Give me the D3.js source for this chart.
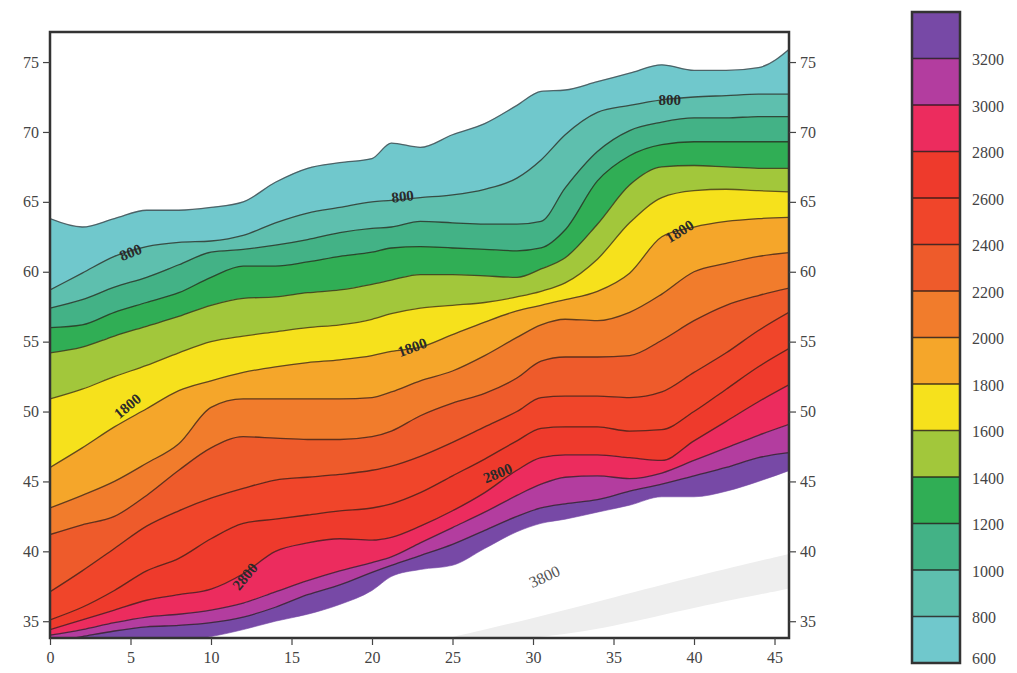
<!DOCTYPE html>
<html>
<head>
<meta charset="UTF-8">
<script src="https://d3js.org/d3.v7.min.js"></script>
<style>
  body { margin: 0; background: #fff; font-family: "Liberation Serif", "DejaVu Serif", serif; }
  .tick text { font-family: "Liberation Serif", serif; font-size: 16px; fill: #444; }
  .tick line { stroke: #444; stroke-width: 1.2; }
  .clabel { font-family: "Liberation Serif", serif; font-size: 15px; fill: #2a2a2a; font-weight: bold; }
</style>
</head>
<body>
<svg id="chart" width="1017" height="673"></svg>
<script>
// x positions where each contour line was read
var xs = [0, 2, 4, 6, 8, 10, 12, 14, 16, 18, 20, 21.2, 23, 25, 27, 29, 30.5, 32, 34, 36, 38, 40, 42, 44, 46.2];

// latitude of each contour line at xs
var topEdge = [63.8, 63.2, 63.8, 64.4, 64.4, 64.6, 65.0, 66.4, 67.4, 67.8, 68.1, 69.2, 68.9, 69.8, 70.6, 71.9, 72.9, 73.0, 73.6, 74.2, 74.8, 74.4, 74.4, 74.6, 76.2];
var c800  = [58.7, 59.9, 61.1, 61.8, 62.1, 62.2, 62.6, 63.5, 64.2, 64.6, 65.0, 65.1, 65.3, 65.5, 65.9, 66.7, 68.0, 69.8, 71.4, 71.9, 72.3, 72.5, 72.6, 72.7, 72.7];
var c1000 = [57.4, 58.0, 58.9, 59.6, 60.5, 61.4, 61.6, 61.9, 62.3, 62.8, 63.1, 63.2, 63.6, 63.5, 63.4, 63.4, 63.6, 66.0, 68.6, 70.1, 70.7, 71.0, 71.0, 71.1, 71.1];
var c1200 = [56.0, 56.2, 57.1, 57.8, 58.5, 59.6, 60.4, 60.4, 60.7, 61.1, 61.4, 61.7, 61.8, 61.7, 61.6, 61.5, 61.7, 63.0, 66.5, 68.3, 69.1, 69.3, 69.3, 69.3, 69.3];
var c1400 = [54.2, 54.6, 55.4, 56.1, 56.8, 57.6, 58.1, 58.2, 58.5, 58.7, 59.1, 59.4, 59.8, 59.8, 59.7, 59.6, 60.2, 61.0, 63.4, 66.2, 67.5, 67.6, 67.5, 67.4, 67.4];
var c1600 = [50.9, 51.6, 52.5, 53.3, 54.2, 55.0, 55.4, 55.7, 56.0, 56.2, 56.6, 57.0, 57.4, 57.6, 57.8, 58.2, 58.6, 59.2, 60.9, 63.5, 65.3, 65.8, 65.9, 65.8, 65.7];
var c1800 = [46.0, 47.4, 48.9, 50.2, 51.5, 52.2, 52.8, 53.2, 53.5, 53.7, 54.0, 54.3, 54.6, 55.5, 56.4, 57.2, 57.6, 58.0, 58.6, 59.9, 62.5, 63.2, 63.6, 63.8, 63.9];
var c2000 = [43.1, 44.0, 45.0, 46.3, 47.7, 50.3, 50.9, 50.9, 50.9, 50.9, 51.0, 51.4, 52.2, 52.9, 54.0, 55.3, 56.2, 56.6, 56.5, 57.1, 58.4, 60.0, 60.6, 61.1, 61.4];
var c2200 = [41.2, 41.9, 42.5, 44.0, 45.8, 47.4, 48.2, 48.1, 48.0, 48.0, 48.2, 48.6, 49.7, 50.6, 51.3, 52.4, 53.6, 53.9, 53.9, 54.0, 55.1, 56.5, 57.6, 58.3, 58.9];
var c2400 = [37.1, 38.6, 40.2, 41.8, 42.9, 43.8, 44.5, 45.1, 45.3, 45.5, 45.8, 46.1, 46.8, 47.8, 48.9, 50.0, 51.0, 51.1, 51.1, 51.0, 51.4, 52.8, 54.2, 55.8, 57.3];
var c2600 = [35.1, 36.0, 37.2, 38.6, 39.5, 40.9, 42.0, 42.3, 42.6, 42.9, 43.1, 43.4, 44.2, 45.4, 46.6, 47.9, 48.8, 48.9, 48.9, 48.6, 48.7, 50.0, 51.6, 53.2, 54.7];
var c2800 = [34.4, 35.1, 35.8, 36.5, 36.9, 37.3, 38.4, 40.0, 40.6, 40.9, 40.8, 41.0, 41.8, 42.9, 44.2, 45.8, 46.7, 46.9, 46.9, 46.7, 46.5, 47.9, 49.3, 50.7, 52.1];
var c3000 = [34.0, 34.4, 34.9, 35.3, 35.5, 35.8, 36.3, 37.1, 37.9, 38.6, 39.2, 39.6, 40.6, 41.7, 42.8, 44.0, 44.8, 45.3, 45.4, 45.2, 45.6, 46.5, 47.4, 48.3, 49.2];
var c3200 = [33.5, 33.9, 34.3, 34.6, 34.7, 34.9, 35.3, 36.0, 36.9, 37.6, 38.5, 39.0, 39.7, 40.5, 41.5, 42.5, 43.1, 43.4, 43.7, 44.3, 44.8, 45.4, 46.0, 46.7, 47.1];
var bottomEdge = [32.5, 32.8, 33.1, 33.4, 33.6, 33.9, 34.4, 35.0, 35.5, 36.2, 37.2, 38.2, 38.7, 39.0, 40.2, 41.4, 42.0, 42.3, 42.8, 43.3, 43.9, 43.9, 44.3, 45.0, 45.9];

// faint grey band in the empty lower right area
var ghostX = [24, 30, 35, 40, 46.2];
var ghostTop = [33.6, 35.2, 36.7, 38.2, 39.9];
var ghostBottom = [33.6, 33.7, 34.6, 36.0, 37.4];

// colour levels
var levels = [600, 800, 1000, 1200, 1400, 1600, 1800, 2000, 2200, 2400, 2600, 2800, 3000, 3200, 3400];
var bandColors = ['#70c8cc', '#5ebfae', '#43b286', '#30ae55', '#a2c73b', '#f6e11c', '#f5a62a', '#f17c2c', '#ee5b2b', '#f0452a', '#ee3a2c', '#ec2c5e', '#b33d9f', '#7749a6'];

var xTicks = [0, 5, 10, 15, 20, 25, 30, 35, 40, 45];
var yTicks = [35, 40, 45, 50, 55, 60, 65, 70, 75];
var barTicks = [600, 800, 1000, 1200, 1400, 1600, 1800, 2000, 2200, 2400, 2600, 2800, 3000, 3200];

var contourLabels = [
  {t: '800', x: 5.0, y: 61.4, a: -22},
  {t: '800', x: 21.9, y: 65.4, a: -6},
  {t: '800', x: 38.5, y: 72.3, a: 0},
  {t: '1800', x: 39.1, y: 62.9, a: -32},
  {t: '1800', x: 22.5, y: 54.6, a: -20},
  {t: '1800', x: 4.8, y: 50.4, a: -40},
  {t: '2800', x: 27.8, y: 45.6, a: -22},
  {t: '2800', x: 12.1, y: 38.2, a: -50},
  {t: '3800', x: 30.7, y: 38.2, a: -25, grey: true}
];

var lines = [topEdge, c800, c1000, c1200, c1400, c1600, c1800, c2000, c2200, c2400, c2600, c2800, c3000, c3200, bottomEdge];

var svg = d3.select('#chart');
var plotLeft = 50, plotRight = 789, plotTop = 32, plotBottom = 638;

var x = d3.scaleLinear().domain([0, 45.9]).range([plotLeft, plotRight]);
var y = d3.scaleLinear().domain([33.8, 77.15]).range([plotBottom, plotTop]);

svg.append('clipPath').attr('id', 'plotclip')
  .append('rect').attr('x', plotLeft).attr('y', plotTop).attr('width', plotRight - plotLeft).attr('height', plotBottom - plotTop);

var plot = svg.append('g').attr('clip-path', 'url(#plotclip)');

plot.append('rect').attr('x', plotLeft).attr('y', plotTop).attr('width', plotRight - plotLeft).attr('height', plotBottom - plotTop).attr('fill', '#fff');

// grey ghost band
var ghost = ghostX.map(function(v, i) { return {x: v, y0: ghostBottom[i], y1: ghostTop[i]}; });
plot.append('path')
  .datum(ghost)
  .attr('d', d3.area().x(function(d) { return x(d.x); }).y0(function(d) { return y(d.y0); }).y1(function(d) { return y(d.y1); }).curve(d3.curveBasis))
  .attr('fill', '#eeeeee');

var curve = d3.curveMonotoneX;

// bands
for (var i = 0; i < lines.length - 1; i++) {
  var up = lines[i], lo = lines[i + 1];
  var pts = xs.map(function(v, j) { return {x: v, y1: up[j], y0: lo[j]}; });
  plot.append('path')
    .datum(pts)
    .attr('d', d3.area().x(function(d) { return x(d.x); }).y0(function(d) { return y(d.y0); }).y1(function(d) { return y(d.y1); }).curve(curve))
    .attr('fill', bandColors[i])
    .attr('stroke', bandColors[i])
    .attr('stroke-width', 0.6);
}

// contour lines
var lineGen = d3.line().x(function(d) { return x(d.x); }).y(function(d) { return y(d.y); }).curve(curve);
lines.slice(0, lines.length - 1).forEach(function(arr, k) {
  var pts = xs.map(function(v, j) { return {x: v, y: arr[j]}; });
  plot.append('path')
    .datum(pts)
    .attr('d', lineGen)
    .attr('fill', 'none')
    .attr('stroke', k == 0 ? 'rgba(60,70,75,0.8)' : 'rgba(35,25,20,0.7)')
    .attr('stroke-width', 1.3);
});

// contour labels
contourLabels.forEach(function(d) {
  plot.append('text')
    .attr('class', 'clabel')
    .attr('transform', 'translate(' + x(d.x) + ',' + y(d.y) + ') rotate(' + d.a + ')')
    .attr('text-anchor', 'middle')
    .attr('dy', '0.35em')
    .style('fill', d.grey ? '#555' : '#2a2a2a')
    .style('font-weight', d.grey ? 'normal' : 'bold')
    .style('font-size', d.grey ? '16px' : null)
    .text(d.t);
});

// frame
svg.append('rect').attr('x', plotLeft).attr('y', plotTop).attr('width', plotRight - plotLeft).attr('height', plotBottom - plotTop)
  .attr('fill', 'none').attr('stroke', '#333').attr('stroke-width', 2.5);

// axes
svg.append('g').attr('transform', 'translate(' + plotLeft + ',0)')
  .call(d3.axisLeft(y).tickValues(yTicks).tickSize(7).tickPadding(4))
  .call(function(g) { g.select('.domain').remove(); });
svg.append('g').attr('transform', 'translate(' + plotRight + ',0)')
  .call(d3.axisRight(y).tickValues(yTicks).tickSize(7).tickPadding(4))
  .call(function(g) { g.select('.domain').remove(); });
svg.append('g').attr('transform', 'translate(0,' + plotBottom + ')')
  .call(d3.axisBottom(x).tickValues(xTicks).tickSize(7).tickPadding(7))
  .call(function(g) { g.select('.domain').remove(); });

// colour bar
var barX = 912, barW = 48;
var cy = d3.scaleLinear().domain([600, 3400]).range([663, 12]);
var bar = svg.append('g');
bar.selectAll('rect.seg')
  .data(bandColors)
  .join('rect')
  .attr('class', 'seg')
  .attr('x', barX)
  .attr('y', function(d, i) { return cy(levels[i + 1]); })
  .attr('width', barW)
  .attr('height', function(d, i) { return cy(levels[i]) - cy(levels[i + 1]); })
  .attr('fill', function(d) { return d; });
bar.selectAll('line.sep')
  .data(levels.slice(1, levels.length - 1))
  .join('line')
  .attr('class', 'sep')
  .attr('x1', barX).attr('x2', barX + barW)
  .attr('y1', function(d) { return cy(d); }).attr('y2', function(d) { return cy(d); })
  .attr('stroke', 'rgba(30,20,20,0.8)').attr('stroke-width', 1.3);
bar.append('rect').attr('x', barX).attr('y', cy(3400)).attr('width', barW).attr('height', cy(600) - cy(3400))
  .attr('fill', 'none').attr('stroke', '#333').attr('stroke-width', 2.5);
bar.selectAll('text')
  .data(barTicks)
  .join('text')
  .attr('x', 972)
  .attr('y', function(d) { return d == 600 ? cy(d) - 5 : cy(d) + 1; })
  .attr('dy', '0.35em')
  .style('font-family', '"Liberation Serif", serif')
  .style('font-size', '16px')
  .style('fill', '#444')
  .text(function(d) { return d; });
</script>
</body>
</html>
